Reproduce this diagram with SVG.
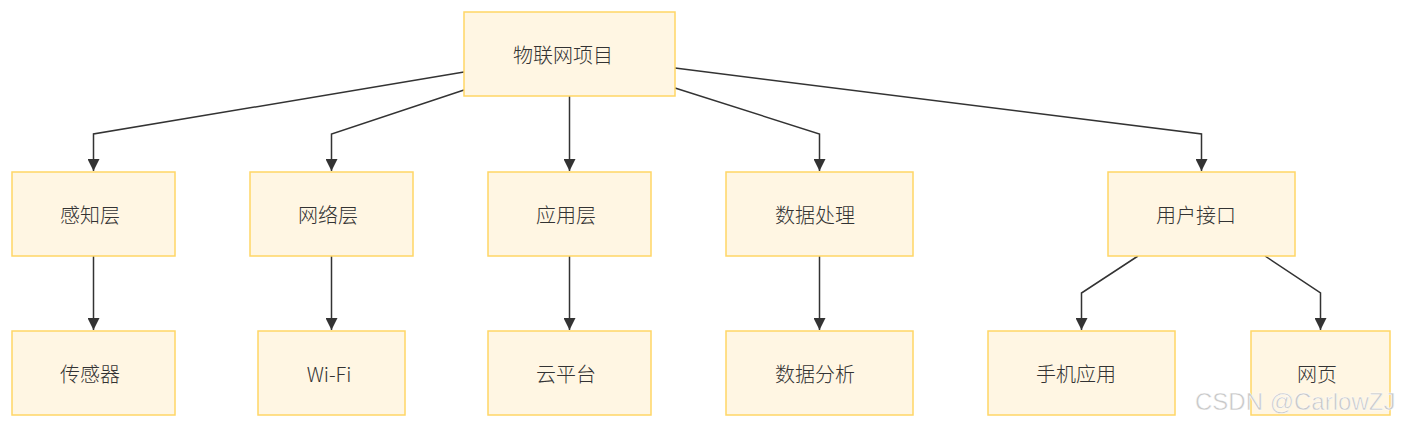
<svg xmlns="http://www.w3.org/2000/svg" width="1404" height="428" viewBox="0 0 1404 428">
<style>
.n rect{fill:#fff6e3;stroke:#ffd666;stroke-width:1.5}
.n text{font-family:"Noto Sans CJK SC","Noto Sans",sans-serif;font-size:20px;font-weight:300;fill:#333;text-anchor:middle;dominant-baseline:central}
.e path{fill:none;stroke:#333;stroke-width:1.5;marker-end:url(#a)}
.wm{font-family:"Liberation Sans",Arial,sans-serif;font-size:24px;fill:#c8c8c8;stroke:#fff;stroke-width:0.5}
</style>
<defs>
<marker id="a" viewBox="0 0 10 10" refX="10" refY="5" markerWidth="12" markerHeight="12" markerUnits="userSpaceOnUse" orient="auto">
<path d="M0,0 L10,5 L0,10 z" fill="#333"/>
</marker>
</defs>
<rect width="1404" height="428" fill="#fff"/>
<g class="e">
<path d="M464,72 L93.5,134 L93.5,171"/>
<path d="M464,90 L331.5,134 L331.5,171"/>
<path d="M569.5,96 L569.5,171"/>
<path d="M675,88 L819.5,134 L819.5,171"/>
<path d="M675,68 L1201.5,134 L1201.5,171"/>
<path d="M93.5,256 L93.5,330"/>
<path d="M331.5,256 L331.5,330"/>
<path d="M569.5,256 L569.5,330"/>
<path d="M819.5,256 L819.5,330"/>
<path d="M1138,256 L1081.5,293 L1081.5,330"/>
<path d="M1265,256 L1320.5,293 L1320.5,330"/>
</g>
<g id="root" class="n"><rect x="464" y="12" width="211" height="84"/><text x="563" y="54">物联网项目</text></g>
<g id="sense" class="n"><rect x="12" y="172" width="163" height="84"/><text x="90" y="214">感知层</text></g>
<g id="net" class="n"><rect x="250" y="172" width="163" height="84"/><text x="328" y="214">网络层</text></g>
<g id="app" class="n"><rect x="488" y="172" width="163" height="84"/><text x="566" y="214">应用层</text></g>
<g id="data" class="n"><rect x="726" y="172" width="187" height="84"/><text x="815" y="214">数据处理</text></g>
<g id="ui" class="n"><rect x="1108" y="172" width="187" height="84"/><text x="1196" y="214">用户接口</text></g>
<g id="sensor" class="n"><rect x="12" y="331" width="163" height="84"/><text x="90" y="373">传感器</text></g>
<g id="wifi" class="n"><rect x="258" y="331" width="147" height="84"/><text x="329" y="373">Wi-Fi</text></g>
<g id="cloud" class="n"><rect x="488" y="331" width="163" height="84"/><text x="566" y="373">云平台</text></g>
<g id="analysis" class="n"><rect x="726" y="331" width="187" height="84"/><text x="815" y="373">数据分析</text></g>
<g id="mobile" class="n"><rect x="988" y="331" width="187" height="84"/><text x="1076" y="373">手机应用</text></g>
<g id="web" class="n"><rect x="1251" y="331" width="139" height="84"/><text x="1317" y="373">网页</text></g>
<text class="wm" x="1195" y="410">CSDN @CarlowZJ</text>
</svg>
